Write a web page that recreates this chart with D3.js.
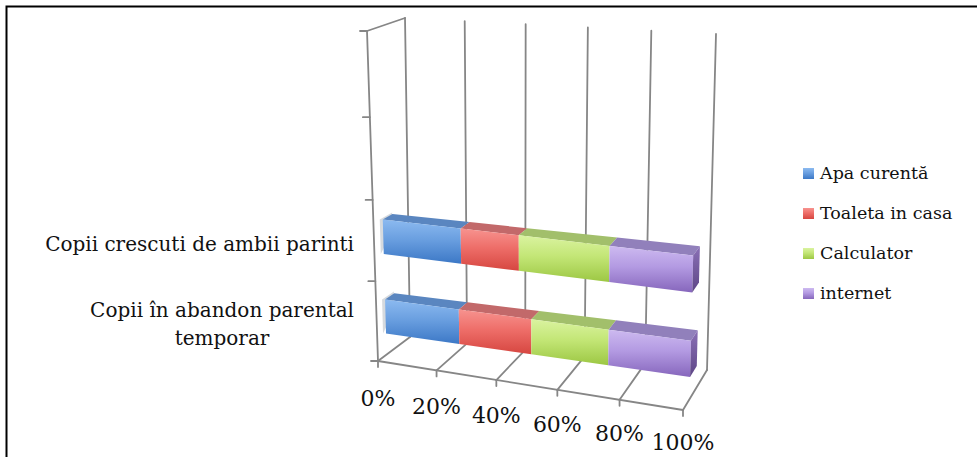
<!DOCTYPE html>
<html>
<head>
<meta charset="utf-8">
<script src="https://cdn.jsdelivr.net/npm/d3@7/dist/d3.min.js"></script>
<style>
  html, body { margin: 0; padding: 0; background: #fff; }
  svg { display: block; }
  text { font-family: "DejaVu Serif", "Liberation Serif", serif; fill: #111; }
</style>
</head>
<body>
<svg id="chart" width="977" height="457"></svg>
<script>
// ---------------- data ----------------
const categories = ["Copii în abandon parental temporar", "Copii crescuti de ambii parinti"];
const seriesNames = ["Apa curentă", "Toaleta in casa", "Calculator", "internet"];
const apaCurenta    = [25, 26];
const toaletaInCasa = [24, 19];
const calculator    = [25, 29];
const internet      = [26, 26];
const valueTicks = [0, 20, 40, 60, 80, 100];
const tickLabels = ["0%", "20%", "40%", "60%", "80%", "100%"];
const categorySlots = 4;

const seriesValues = [apaCurenta, toaletaInCasa, calculator, internet];

// ---------------- styles ----------------
const frontColors = [
  ["#8cbaf0", "#6a9fe0", "#3c78c6"],
  ["#f7938f", "#ee6e69", "#d64640"],
  ["#daf3a0", "#c3e676", "#9cc743"],
  ["#cdbaf0", "#b39ae2", "#8666bc"]
];
const topColors = ["#5a86c0", "#c2696a", "#a2bf6b", "#9180bb"];
const gridColor = "#868686";

const svg = d3.select("#chart");
const defs = svg.append("defs");

frontColors.forEach((c, i) => {
  const g = defs.append("linearGradient").attr("id", "grad" + i)
    .attr("x1", 0).attr("y1", 0).attr("x2", 0).attr("y2", 1);
  g.append("stop").attr("offset", "0%").attr("stop-color", c[0]);
  g.append("stop").attr("offset", "45%").attr("stop-color", c[1]);
  g.append("stop").attr("offset", "100%").attr("stop-color", c[2]);
});
const sideGrad = defs.append("linearGradient").attr("id", "sideGrad")
  .attr("x1", 0).attr("y1", 0).attr("x2", 0).attr("y2", 1);
sideGrad.append("stop").attr("offset", "0%").attr("stop-color", "#8a70b6");
sideGrad.append("stop").attr("offset", "100%").attr("stop-color", "#5e4686");

// frame
svg.append("path").attr("d", "M6.5,457 L6.5,6.5 L977,6.5")
  .attr("fill", "none").attr("stroke", "#000").attr("stroke-width", 2);

// ---------------- 3D projection ----------------
// value scale (percent -> unit along value axis, slight perspective)
const xScale = d3.scaleLinear().domain([0, 20, 40, 60, 80, 100])
  .range([0, 0.192, 0.388, 0.588, 0.792, 1]);
// category slot scale (slot position -> unit along category axis)
const yScale = d3.scaleLinear().domain([0, 1, 2, 3, 4])
  .range([0, 0.242, 0.488, 0.739, 1]);

const box = {
  front: { lb: [378, 361], rb: [683, 410], lt: [367, 31], rt: [692, 58] },
  back:  { lb: [410, 337], rb: [707, 370], lt: [405, 18], rt: [716, 34] }
};
function bilerp(q, u, v) {
  const bx = q.lb[0] + (q.rb[0] - q.lb[0]) * u, by = q.lb[1] + (q.rb[1] - q.lb[1]) * u;
  const tx = q.lt[0] + (q.rt[0] - q.lt[0]) * u, ty = q.lt[1] + (q.rt[1] - q.lt[1]) * u;
  return [bx + (tx - bx) * v, by + (ty - by) * v];
}
function P(val, slot, d) {
  const u = xScale(val), v = yScale(slot);
  const f = bilerp(box.front, u, v), b = bilerp(box.back, u, v);
  return [f[0] + (b[0] - f[0]) * d, f[1] + (b[1] - f[1]) * d];
}
const line = d3.line();
const poly = pts => line(pts) + "Z";

const grid = svg.append("g").attr("fill", "none").attr("stroke", gridColor)
  .attr("stroke-width", 1.8).attr("stroke-linecap", "round");

// back wall verticals
valueTicks.forEach(t => {
  grid.append("path").attr("d", line([P(t, 0, 1), P(t, categorySlots, 1)]));
});
// floor depth lines
valueTicks.forEach(t => {
  grid.append("path").attr("d", line([P(t, 0, 0), P(t, 0, 1)]));
});
// floor front edge, left wall front edge, left wall top edge
grid.append("path").attr("d", line([P(0, 0, 0), P(100, 0, 0)]));
grid.append("path").attr("d", line([P(0, 0, 0), P(0, categorySlots, 0)]));
grid.append("path").attr("d", line([P(0, categorySlots, 0), P(0, categorySlots, 1)]));
// left axis ticks
d3.range(0, categorySlots + 1).forEach(s => {
  const p = P(0, s, 0);
  grid.append("path").attr("d", line([[p[0] - 7, p[1]], p]));
});
// bottom axis ticks
valueTicks.forEach(t => {
  const p = P(t, 0, 0);
  grid.append("path").attr("d", line([p, [p[0], p[1] + 6]]));
});

// ---------------- bars ----------------
const d0 = 0.27, d1 = 0.55, halfBar = 0.215;
const bars = svg.append("g");
[1, 0].forEach(ci => {
  const s0 = ci + 0.48 - halfBar, s1 = ci + 0.48 + halfBar;
  let cum = 0;
  const segs = seriesValues.map((arr, si) => {
    const a = cum; cum += arr[ci];
    return { si, a, b: cum };
  });
  // pale glow at the left end
  bars.append("path")
    .attr("d", poly([P(0, s0, d0), P(0, s1, d0), P(0, s1, d1 + 0.08), P(0, s0 + 0.15, d1)]))
    .attr("transform", "translate(-3,0)")
    .attr("fill", "#cfd3d8").attr("opacity", 0.85);
  segs.forEach(sg => {
    bars.append("path")
      .attr("d", poly([P(sg.a, s1, d0), P(sg.b, s1, d0), P(sg.b, s1, d1), P(sg.a, s1, d1)]))
      .attr("fill", topColors[sg.si]);
    bars.append("path")
      .attr("d", poly([P(sg.a, s0, d0), P(sg.b, s0, d0), P(sg.b, s1, d0), P(sg.a, s1, d0)]))
      .attr("fill", "url(#grad" + sg.si + ")");
  });
  bars.append("path")
    .attr("d", poly([P(100, s0, d0), P(100, s0, d1), P(100, s1, d1), P(100, s1, d0)]))
    .attr("fill", "url(#sideGrad)");
});

// ---------------- labels ----------------
valueTicks.forEach((t, i) => {
  const p = P(t, 0, 0);
  svg.append("text").attr("x", p[0]).attr("y", p[1] + 45 - 5 * t / 100)
    .attr("text-anchor", "middle").attr("font-size", 22).text(tickLabels[i]);
});

// category labels
const catLines = [["Copii în abandon parental", "temporar"], ["Copii crescuti de ambii parinti"]];
const catRight = 354, lineH = 28;
categories.forEach((c, ci) => {
  const p = P(0, ci + 0.5, 0);
  const lines = catLines[ci];
  const g = svg.append("g");
  const texts = lines.map((ln, li) => g.append("text")
    .attr("font-size", 20).attr("text-anchor", "middle")
    .attr("y", p[1] + 3 + (li - (lines.length - 1) / 2) * lineH + 7)
    .text(ln));
  const w = d3.max(texts, t => t.node().getComputedTextLength());
  texts.forEach(t => t.attr("x", catRight - w / 2));
});

// legend
const legend = svg.append("g");
seriesNames.forEach((n, i) => {
  const y = 173 + i * 40;
  legend.append("rect").attr("x", 803).attr("y", y - 5).attr("width", 11).attr("height", 11)
    .attr("fill", "url(#grad" + i + ")");
  legend.append("text").attr("x", 820).attr("y", y + 6).attr("font-size", 17.5).text(n);
});
</script>
</body>
</html>
